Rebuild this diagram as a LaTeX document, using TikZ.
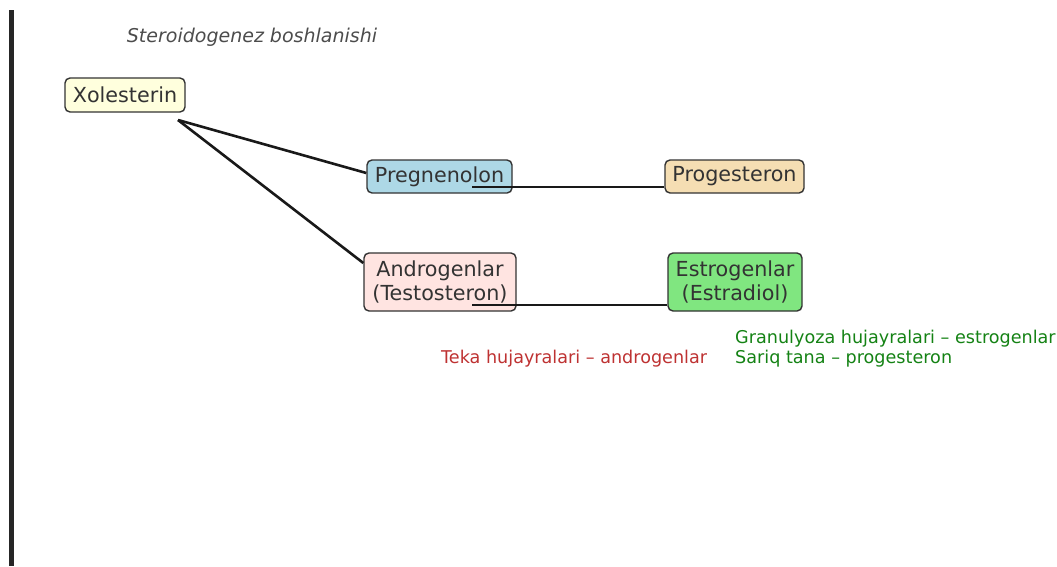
\documentclass[tikz,border=0pt]{standalone}
\usepackage{fontspec}
\setmainfont{DejaVu Sans}
\begin{document}
\begin{tikzpicture}[x=1pt,y=-1pt,
  box/.style={draw=black!80, line width=1.4pt, rounded corners=5pt, text=black!80,
    font=\fontsize{20.7}{23.5}\selectfont, align=center, inner sep=0pt},
  conn/.style={draw=black!90, line width=2.6pt},
  note/.style={font=\fontsize{17.6}{20}\selectfont, anchor=west, inner sep=0pt}]
\useasboundingbox (0,0) rectangle (1057,566);
\fill[black!85] (9,10) rectangle (14,566);
\node[font=\itshape\fontsize{19}{22}\selectfont, text=black!70, inner sep=0pt] (title) at (252,37) {Steroidogenez boshlanishi};
\node[box, fill={rgb,255:red,255;green,255;blue,221}, minimum width=120pt, minimum height=34pt] (xol) at (125,95) {Xolesterin};
\node[box, fill={rgb,255:red,173;green,216;blue,230}, minimum width=145pt, minimum height=33pt] (preg) at (439.5,176.5) {Pregnenolon};
\node[box, fill={rgb,255:red,245;green,222;blue,179}, minimum width=139pt, minimum height=33pt] (prog) at (734.5,176.5) {Progesteron};
\node[box, fill={rgb,255:red,255;green,228;blue,225}, minimum width=152pt, minimum height=58pt] (andro) at (440,282) {Androgenlar\\(Testosteron)};
\node[box, fill={rgb,255:red,128;green,230;blue,128}, minimum width=134pt, minimum height=58pt] (estro) at (735,282) {Estrogenlar\\(Estradiol)};
\coordinate (xo) at (178,120);
\coordinate (pi) at (472,187);
\coordinate (ai) at (472,305);
\draw[conn] (xo) -- (preg.west|-0,173);
\draw[conn] (xo) -- (andro.west|-0,263);
\draw[conn] (pi) -- (prog.west|-pi);
\draw[conn] (ai) -- (estro.west|-ai);
\node[note, text={rgb,255:red,190;green,50;blue,50}] (teka) at (441,359) {Teka hujayralari – androgenlar};
\node[note, text={rgb,255:red,20;green,130;blue,20}, align=left] (gran) at (735,349) {Granulyoza hujayralari – estrogenlar\\Sariq tana – progesteron};
\end{tikzpicture}
\end{document}
